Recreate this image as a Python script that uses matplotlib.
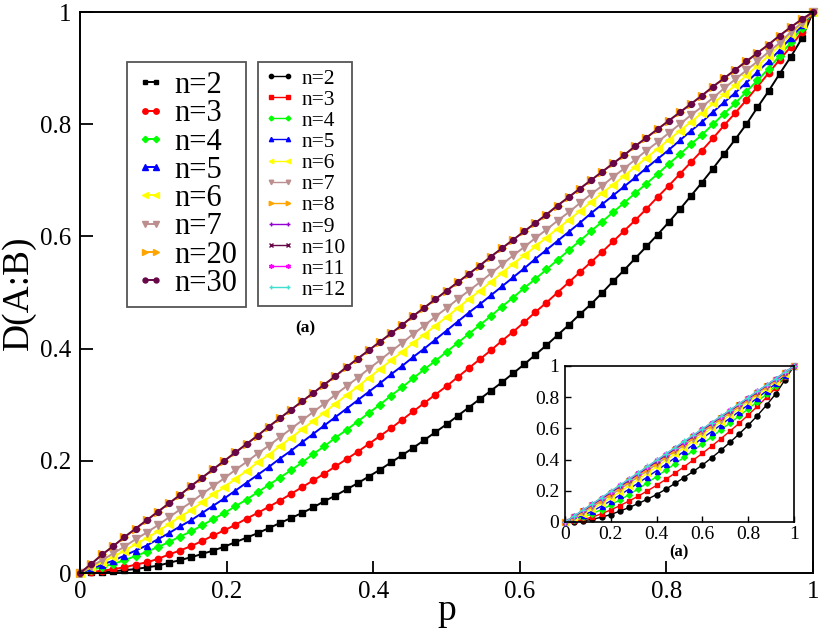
import matplotlib
matplotlib.use("Agg")
import matplotlib.pyplot as plt
import numpy as np

plt.rcParams['font.family'] = ['Liberation Serif', 'DejaVu Serif']

# ---------------- data ----------------
p_main = np.linspace(0, 1, 67)
p_inset = np.linspace(0, 1, 26)

main_labels = ["n=2", "n=3", "n=4", "n=5", "n=6", "n=7", "n=20", "n=30"]

D2 = [0, .001, .002, .003, .005, .007, .010, .013, .018, .023,
      .028, .034, .040, .047, .055, .063, .071, .080, .089, .098,
      .107, .117, .128, .138, .149, .160, .172, .184, .197, .210,
      .223, .237, .251, .265, .280, .295, .310, .325, .340, .356,
      .372, .389, .406, .424, .442, .461, .479, .499, .520, .540,
      .561, .582, .603, .625, .648, .672, .696, .721, .747, .773,
      .800, .830, .859, .890, .920, .953, 1.0]
D3 = [0, .002, .004, .007, .010, .015, .019, .025, .033, .040,
      .048, .057, .067, .076, .086, .097, .107, .118, .129, .141,
      .153, .165, .177, .190, .203, .216, .230, .244, .258, .273,
      .288, .303, .318, .333, .349, .365, .381, .397, .414, .430,
      .447, .465, .482, .500, .518, .536, .554, .572, .591, .610,
      .629, .649, .670, .690, .711, .732, .753, .775, .798, .820,
      .843, .867, .891, .915, .938, .965, 1.0]
D4 = [0, .005, .011, .016, .023, .030, .038, .046, .055, .065,
      .074, .085, .096, .107, .119, .131, .144, .157, .170, .183,
      .197, .212, .226, .241, .255, .270, .285, .300, .316, .331,
      .347, .363, .378, .394, .410, .426, .442, .458, .475, .491,
      .508, .524, .541, .558, .575, .592, .609, .626, .643, .660,
      .677, .694, .711, .729, .746, .764, .781, .800, .819, .837,
      .858, .878, .899, .922, .946, .972, 1.0]
D5 = [0, .007, .015, .022, .031, .040, .049, .060, .071, .083,
      .094, .107, .120, .133, .147, .161, .175, .189, .204, .218,
      .233, .248, .263, .278, .293, .308, .323, .338, .354, .369,
      .385, .400, .416, .432, .448, .464, .479, .495, .511, .527,
      .543, .560, .576, .592, .608, .624, .641, .657, .673, .689,
      .705, .722, .738, .754, .771, .788, .804, .822, .839, .856,
      .874, .893, .912, .932, .954, .976, 1.0]
D6 = [0, .010, .019, .029, .040, .051, .062, .074, .087, .100,
      .112, .126, .140, .153, .168, .182, .197, .211, .226, .241,
      .256, .271, .286, .302, .317, .332, .348, .363, .379, .394,
      .410, .425, .441, .456, .472, .488, .503, .519, .535, .551,
      .566, .582, .598, .614, .629, .645, .661, .677, .692, .708,
      .724, .740, .756, .772, .788, .804, .820, .837, .853, .869,
      .887, .904, .922, .940, .960, .979, 1.0]
D7 = [0, .012, .023, .035, .047, .060, .072, .085, .099, .113,
      .126, .141, .155, .169, .184, .198, .213, .227, .242, .257,
      .272, .287, .302, .318, .333, .348, .364, .379, .395, .410,
      .426, .441, .457, .472, .488, .503, .518, .534, .550, .566,
      .581, .597, .612, .628, .643, .659, .675, .690, .706, .721,
      .737, .753, .768, .784, .800, .816, .831, .847, .864, .880,
      .896, .912, .929, .945, .964, .981, 1.0]
D20 = [0, .016, .033, .048, .064, .079, .094, .109, .124, .139,
       .155, .170, .185, .200, .215, .230, .245, .261, .276, .291,
       .306, .321, .336, .351, .367, .382, .397, .412, .427, .442,
       .458, .473, .488, .503, .518, .533, .548, .564, .579, .594,
       .609, .624, .639, .655, .670, .685, .700, .715, .730, .745,
       .761, .776, .791, .806, .821, .836, .851, .867, .882, .897,
       .912, .927, .942, .958, .973, .987, 1.0]
D30 = [0, .016, .033, .048, .064, .079, .094, .109, .124, .139,
       .155, .170, .185, .200, .215, .230, .245, .261, .276, .291,
       .306, .321, .336, .351, .367, .382, .397, .412, .427, .442,
       .458, .473, .488, .503, .518, .533, .548, .564, .579, .594,
       .609, .624, .639, .655, .670, .685, .700, .715, .730, .745,
       .761, .776, .791, .806, .821, .836, .851, .867, .882, .897,
       .912, .927, .942, .958, .973, .987, 1.0]

inset_labels = ["n=2", "n=3", "n=4", "n=5", "n=6", "n=7",
                "n=8", "n=9", "n=10", "n=11", "n=12"]
I2 = [0, .002, .008, .017, .031, .048, .070, .093, .119, .146, .176, .210, .247,
      .285, .324, .365, .411, .459, .510, .564, .620, .682, .749, .821, .910, 1.0]
I3 = [0, .006, .016, .032, .053, .078, .105, .135, .166, .200, .235, .273, .313,
      .354, .397, .440, .486, .533, .582, .632, .686, .741, .799, .860, .930, 1.0]
I4 = [0, .014, .032, .054, .080, .109, .142, .176, .213, .252, .291, .332, .373,
      .415, .458, .501, .545, .590, .634, .679, .725, .771, .820, .873, .935, 1.0]
I5 = [0, .019, .043, .070, .102, .136, .173, .211, .250, .289, .329, .370, .411,
      .453, .495, .537, .579, .622, .665, .708, .751, .795, .840, .888, .943, 1.0]
I6 = [0, .026, .054, .086, .120, .156, .194, .233, .273, .313, .354, .395, .436,
      .477, .518, .560, .602, .643, .685, .727, .769, .811, .854, .899, .949, 1.0]
I7 = [0, .030, .063, .098, .134, .172, .210, .249, .289, .329, .370, .411, .452,
      .492, .533, .575, .616, .657, .698, .739, .781, .823, .865, .908, .953, 1.0]
I8 = [0, .034, .069, .106, .143, .182, .221, .260, .300, .340, .381, .421, .462,
      .502, .543, .584, .624, .665, .706, .747, .788, .829, .870, .912, .955, 1.0]
I9 = [0, .036, .073, .111, .149, .188, .228, .267, .307, .347, .387, .428, .468,
      .508, .549, .589, .630, .670, .711, .751, .792, .833, .874, .915, .957, 1.0]
I10 = [0, .037, .075, .114, .153, .192, .232, .272, .312, .352, .392, .432, .472,
       .513, .553, .593, .633, .674, .714, .754, .795, .835, .876, .917, .958, 1.0]
I11 = [0, .038, .077, .116, .155, .195, .235, .274, .314, .354, .395, .435, .475,
       .515, .555, .595, .636, .676, .716, .756, .797, .837, .877, .918, .959, 1.0]
I12 = [0, .039, .078, .117, .157, .197, .236, .276, .316, .356, .396, .436, .477,
       .517, .557, .597, .637, .677, .717, .758, .798, .838, .878, .919, .959, 1.0]

x_ticks = [0, 0.2, 0.4, 0.6, 0.8, 1]
tick_labels = ["0", "0.2", "0.4", "0.6", "0.8", "1"]

# ---------------- styles ----------------
main_values = [D2, D3, D4, D5, D6, D7, D20, D30]
main_colors = ["#000000", "#FF0000", "#00FF00", "#0000FF", "#FFFF00",
               "#BC8F8F", "#FFA500", "#670748"]
main_markers = ["s", "o", "D", "^", "<", "v", ">", "o"]
main_ms = [3.8, 4.6, 3.8, 5.0, 5.2, 5.2, 5.2, 4.2]

inset_values = [I2, I3, I4, I5, I6, I7, I8, I9, I10, I11, I12]
inset_colors = ["#000000", "#FF0000", "#00FF00", "#0000FF", "#FFFF00", "#BC8F8F",
                "#FFA500", "#9400D3", "#670748", "#FF00FF", "#40E0D0"]
inset_markers = ["o", "s", "D", "^", "<", "v", ">", "+", "x", (6, 2, 0), "+"]
inset_ms = [3.6, 3.4, 2.9, 3.6, 3.8, 3.8, 3.8, 4.0, 3.5, 4.0, 4.0]

W, H = 822, 632
fig = plt.figure(figsize=(W / 100, H / 100), dpi=100)
ax = fig.add_axes([80 / W, (H - 573) / H, 733 / W, 561 / H])

main_lines = []
for lab, vals, c, m, ms in zip(main_labels, main_values, main_colors, main_markers, main_ms):
    ln, = ax.plot(p_main, vals, color=c, marker=m, ms=ms, mec=c, mfc=c,
                  lw=1.4, label=lab, clip_on=False)
    main_lines.append(ln)

ax.set_xlim(0, 1)
ax.set_ylim(0, 1)
ax.set_xticks(x_ticks)
ax.set_xticklabels(tick_labels)
ax.set_yticks(x_ticks)
ax.set_yticklabels(tick_labels)
ax.tick_params(direction='in', length=9, width=1.3, labelsize=18,
               top=False, right=False)
ax.tick_params(axis='x', pad=6)
ax.tick_params(axis='y', pad=6)
for s in ax.spines.values():
    s.set_linewidth(1.4)
ax.set_xlabel("p", fontsize=27, labelpad=-7)
ax.set_ylabel("D(A:B)", fontsize=27, labelpad=3)
ax.text(0.307, 0.4367, "(a)", transform=ax.transAxes, fontsize=12.5,
        fontweight='bold', ha='center', va='center')

# ---------------- inset ----------------
axin = fig.add_axes([565 / W, (H - 522) / H, 229 / W, 156 / H])
inset_lines = []
for lab, vals, c, m, ms in zip(inset_labels, inset_values, inset_colors, inset_markers, inset_ms):
    ln, = axin.plot(p_inset, vals, color=c, marker=m, ms=ms, mec=c, mfc=c,
                    lw=1.0, label=lab, clip_on=False)
    inset_lines.append(ln)
axin.set_xlim(0, 1)
axin.set_ylim(0, 1)
axin.set_xticks(x_ticks)
axin.set_xticklabels(tick_labels)
axin.set_yticks(x_ticks)
axin.set_yticklabels(tick_labels)
axin.tick_params(direction='in', length=4, width=1.0, labelsize=14,
                 top=False, right=False)
axin.tick_params(axis='x', pad=3)
axin.tick_params(axis='y', pad=4)
for s in axin.spines.values():
    s.set_linewidth(1.2)
fig.text(679 / W, 1 - 552 / H, "(a)", fontsize=12, fontweight='bold',
         ha='center', va='center')

# ---------------- legends ----------------
leg1 = ax.legend(handles=main_lines, loc='upper left',
                 bbox_to_anchor=((127 - 80) / 733, (573 - 62) / 561),
                 borderaxespad=0, fontsize=22, labelspacing=-0.025,
                 handlelength=0.95, handletextpad=0.3, borderpad=0.3,
                 markerscale=0.85,
                 numpoints=2, fancybox=False, edgecolor='#555555', framealpha=1)
leg1.get_frame().set_linewidth(1.3)
ax.add_artist(leg1)

leg2 = ax.legend(handles=inset_lines, loc='upper left',
                 bbox_to_anchor=((258 - 80) / 733, (573 - 62) / 561),
                 borderaxespad=0, fontsize=15.5, labelspacing=0.05,
                 handlelength=1.4, handletextpad=0.32, borderpad=0.3,
                 markerscale=0.85,
                 numpoints=2, fancybox=False, edgecolor='#555555', framealpha=1)
leg2.get_frame().set_linewidth(1.3)

fig.savefig("out.png", dpi=100)
